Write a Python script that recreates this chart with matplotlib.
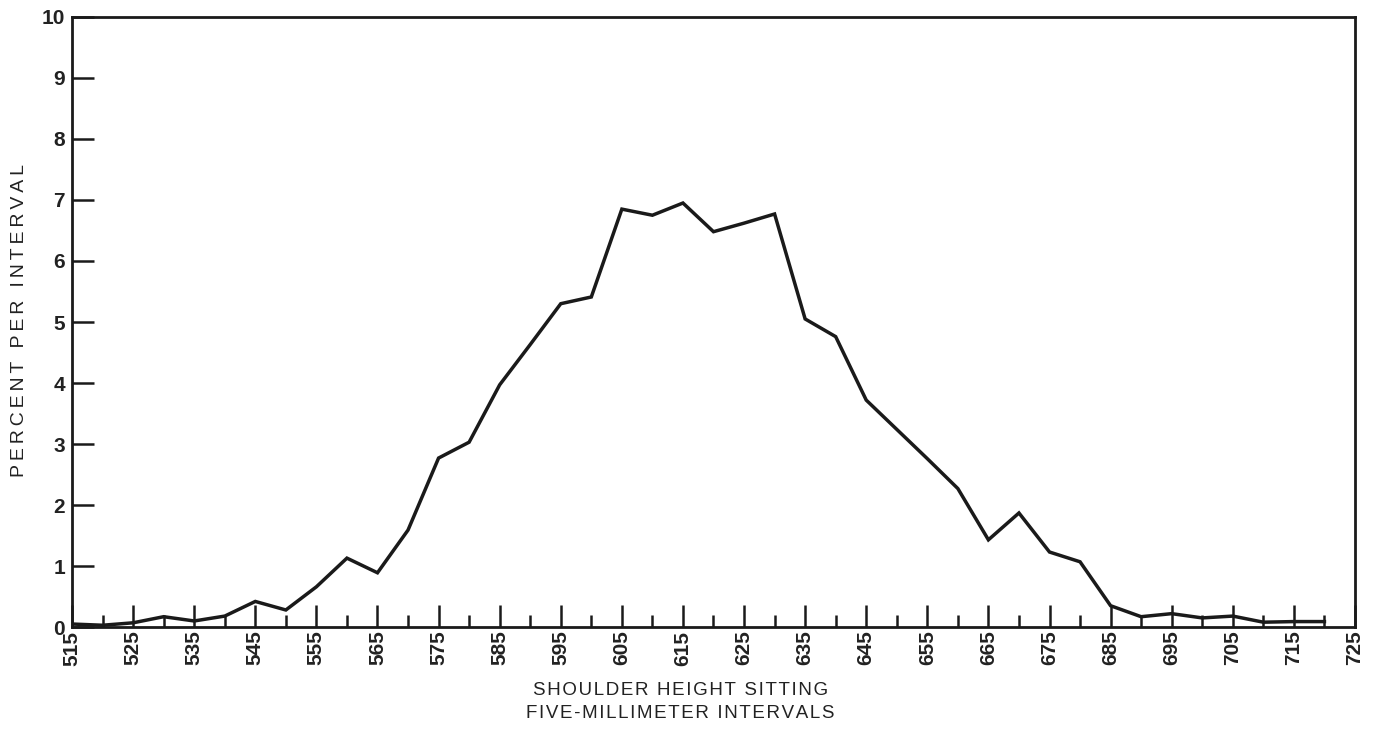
import matplotlib.pyplot as plt
from matplotlib.ticker import MultipleLocator

# === DATA ===
shoulder_mm = [515, 520, 525, 530, 535, 540, 545, 550, 555, 560,
               565, 570, 575, 580, 585, 590, 595, 600, 605, 610,
               615, 620, 625, 630, 635, 640, 645, 650, 655, 660,
               665, 670, 675, 680, 685, 690, 695, 700, 705, 710,
               715, 720]
percent = [0.05, 0.03, 0.07, 0.17, 0.10, 0.18, 0.42, 0.28, 0.66, 1.13,
           0.89, 1.59, 2.77, 3.03, 3.97, 4.63, 5.30, 5.41, 6.85, 6.75,
           6.95, 6.48, 6.62, 6.77, 5.05, 4.76, 3.72, 3.24, 2.76, 2.27,
           1.43, 1.87, 1.23, 1.07, 0.35, 0.17, 0.22, 0.15, 0.18, 0.08,
           0.09, 0.09]

x_ticks = list(range(515, 726, 10))
y_ticks = list(range(0, 11))

y_title = "PERCENT PER INTERVAL"
x_title = ["SHOULDER HEIGHT SITTING", "FIVE-MILLIMETER INTERVALS"]


def spaced(s, gap):
    # old typeset look: a little extra tracking between letters
    return gap.join(s)


plt.rcParams['font.family'] = ['Liberation Sans', 'DejaVu Sans']

fig = plt.figure(figsize=(13.77, 7.36), dpi=100)
ax = fig.add_axes([0.0523, 0.148, 0.9317, 0.829])

ax.plot(shoulder_mm, percent, color='#1a1a1a', linewidth=2.5,
        solid_joinstyle='miter')

ax.set_xlim(515, 725)
ax.set_ylim(0, 10)
ax.set_xticks(x_ticks)
ax.xaxis.set_minor_locator(MultipleLocator(5))
ax.set_yticks(y_ticks)

ax.tick_params(axis='x', which='major', direction='in', length=16, width=1.8,
               labelsize=15, labelrotation=90, pad=2.5, color='#1a1a1a')
ax.tick_params(axis='x', which='minor', direction='in', length=9, width=1.8,
               color='#1a1a1a')
ax.tick_params(axis='y', direction='in', length=16, width=1.8,
               labelsize=15, pad=5, color='#1a1a1a')
for lab in ax.get_xticklabels() + ax.get_yticklabels():
    lab.set_fontweight('bold')
    lab.set_color('#222222')

for side in ['left', 'bottom', 'right', 'top']:
    ax.spines[side].set_linewidth(2.0)
    ax.spines[side].set_color('#1a1a1a')

fig.text(0.0145, 0.565, spaced(y_title, '\u2009'), rotation=90,
         ha='center', va='center', fontsize=14, color='#222222')
fig.text(0.494, 0.062, spaced(x_title[0], '\u200a'), ha='center', va='center',
         fontsize=13.5, color='#222222')
fig.text(0.494, 0.030, spaced(x_title[1], '\u200a'), ha='center', va='center',
         fontsize=13.5, color='#222222')

plt.savefig("out.png", dpi=100)
plt.close()
